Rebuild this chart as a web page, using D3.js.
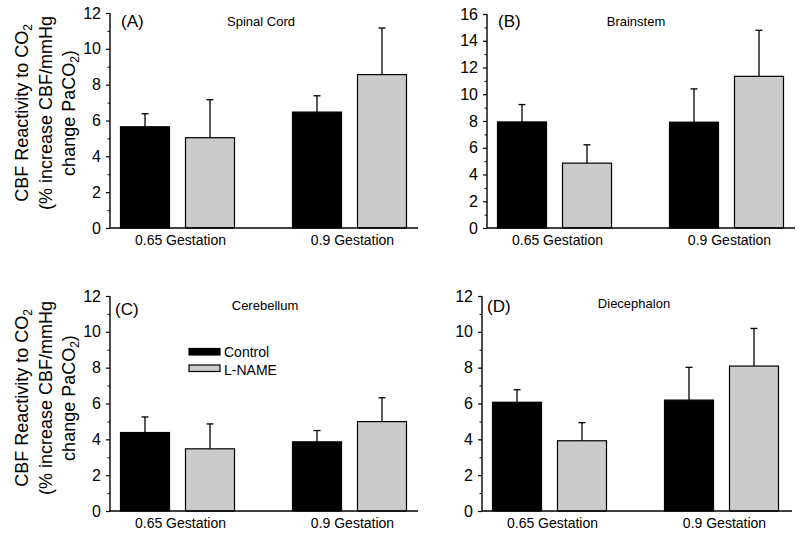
<!DOCTYPE html>
<html>
<head>
<meta charset="utf-8">
<script src="https://cdn.jsdelivr.net/npm/d3@7"></script>
<style>
  html, body { margin: 0; padding: 0; background: #fff; }
  svg { display: block; font-family: Arial, "Liberation Sans", sans-serif; }
</style>
</head>
<body>
<svg id="chart" width="800" height="539"></svg>
<script>
// ---- Data ----
const groups = ["0.65 Gestation", "0.9 Gestation"];
const series = ["Control", "L-NAME"];
const panelLetters = ["(A)", "(B)", "(C)", "(D)"];
const regions = ["Spinal Cord", "Brainstem", "Cerebellum", "Diecephalon"];
const yMaxes = [12, 16, 12, 12];

const spinalControl = [5.65, 6.47];
const spinalControlErr = [0.73, 0.91];
const spinalLName = [5.04, 8.56];
const spinalLNameErr = [2.12, 2.60];

const brainstemControl = [7.93, 7.91];
const brainstemControlErr = [1.30, 2.49];
const brainstemLName = [4.85, 11.34];
const brainstemLNameErr = [1.37, 3.44];

const cerebellumControl = [4.38, 3.86];
const cerebellumControlErr = [0.87, 0.63];
const cerebellumLName = [3.47, 4.99];
const cerebellumLNameErr = [1.39, 1.33];

const diecephalonControl = [6.07, 6.19];
const diecephalonControlErr = [0.70, 1.83];
const diecephalonLName = [3.92, 8.09];
const diecephalonLNameErr = [1.01, 2.10];

const panelData = [
  [spinalControl, spinalControlErr, spinalLName, spinalLNameErr],
  [brainstemControl, brainstemControlErr, brainstemLName, brainstemLNameErr],
  [cerebellumControl, cerebellumControlErr, cerebellumLName, cerebellumLNameErr],
  [diecephalonControl, diecephalonControlErr, diecephalonLName, diecephalonLNameErr]
];

// ---- Layout ----
const layout = [
  {x0: 110, x1: 418, yTop: 13,  yBot: 228, letter: [11, 14], title: [151, 13]},
  {x0: 487, x1: 795, yTop: 14,  yBot: 228, letter: [11, 13], title: [149, 12]},
  {x0: 110, x1: 418, yTop: 296, yBot: 511, letter: [5, 19],  title: [155, 14]},
  {x0: 482, x1: 792, yTop: 296, yBot: 511, letter: [5, 16],  title: [152, 12]}
];
const fills = {"Control": "#000000", "L-NAME": "#cbcbcb"};

const svg = d3.select("#chart");

layout.forEach((L, i) => {
  const g = svg.append("g");
  const y = d3.scaleLinear().domain([0, yMaxes[i]]).range([L.yBot, L.yTop]);
  const xg = d3.scalePoint().domain(groups).range([L.x0 + 67.5, L.x0 + 239.5]);
  const xs = d3.scaleBand().domain(series).range([-57, 57]).paddingInner(16 / 65);

  const [cm, ce, lm, le] = panelData[i];
  const rows = [];
  groups.forEach((grp, gi) => {
    rows.push({grp, s: "Control", v: cm[gi], e: ce[gi]});
    rows.push({grp, s: "L-NAME", v: lm[gi], e: le[gi]});
  });

  // error bars (drawn first so bars cover the lower part)
  rows.forEach(r => {
    const cx = xg(r.grp) + xs(r.s) + xs.bandwidth() / 2;
    g.append("line").attr("x1", cx).attr("x2", cx)
      .attr("y1", y(r.v)).attr("y2", y(r.v + r.e))
      .attr("stroke", "#000").attr("stroke-width", 1.3);
    g.append("line").attr("x1", cx - 3.5).attr("x2", cx + 3.5)
      .attr("y1", y(r.v + r.e)).attr("y2", y(r.v + r.e))
      .attr("stroke", "#000").attr("stroke-width", 1.3);
  });

  // bars
  g.selectAll("rect.bar").data(rows).enter().append("rect")
    .attr("class", "bar")
    .attr("x", d => xg(d.grp) + xs(d.s))
    .attr("width", xs.bandwidth())
    .attr("y", d => y(d.v))
    .attr("height", d => y(0) - y(d.v))
    .attr("fill", d => fills[d.s])
    .attr("stroke", "#000").attr("stroke-width", 1.2);

  // y axis major
  const yAxis = d3.axisLeft(y).tickValues(d3.range(0, yMaxes[i] + 0.001, 2))
    .tickSize(4).tickPadding(5).tickFormat(d3.format("d"));
  const ya = g.append("g").attr("transform", `translate(${L.x0},0)`).call(yAxis);
  ya.select(".domain").remove();
  ya.selectAll("line").attr("stroke", "#000").attr("stroke-width", 1.2);
  ya.selectAll("text").attr("font-size", 16).attr("fill", "#000")
    .attr("font-family", "Arial, 'Liberation Sans', sans-serif");

  // y axis minor
  const minorAxis = d3.axisLeft(y).tickValues(d3.range(1, yMaxes[i], 2))
    .tickSize(2.5).tickFormat("");
  const ym = g.append("g").attr("transform", `translate(${L.x0},0)`).call(minorAxis);
  ym.select(".domain").remove();
  ym.selectAll("line").attr("stroke", "#000").attr("stroke-width", 1);

  // axis lines
  g.append("line").attr("x1", L.x0).attr("x2", L.x0)
    .attr("y1", L.yTop).attr("y2", L.yBot)
    .attr("stroke", "#000").attr("stroke-width", 1.4);
  g.append("line").attr("x1", L.x0).attr("x2", L.x1)
    .attr("y1", L.yBot).attr("y2", L.yBot)
    .attr("stroke", "#000").attr("stroke-width", 1.4);

  // category labels
  groups.forEach(grp => {
    g.append("text").attr("x", xg(grp) + 3).attr("y", L.yBot + 17)
      .attr("text-anchor", "middle").attr("font-size", 14).text(grp);
  });

  // panel letter & region title
  g.append("text").attr("x", L.x0 + L.letter[0]).attr("y", L.yTop + L.letter[1])
    .attr("font-size", 17).text(panelLetters[i]);
  g.append("text").attr("x", L.x0 + L.title[0]).attr("y", L.yTop + L.title[1])
    .attr("text-anchor", "middle").attr("font-size", 13).text(regions[i]);
});

// y-axis titles (left column)
function yTitle(cy) {
  const t = svg.append("g").attr("transform", `translate(0,${cy}) rotate(-90)`);
  const fs = 18;
  const l1 = t.append("text").attr("x", 0).attr("y", 28).attr("text-anchor", "middle").attr("font-size", fs);
  l1.append("tspan").text("CBF Reactivity to CO");
  l1.append("tspan").attr("font-size", 12).attr("dy", 4).text("2");
  const l2 = t.append("text").attr("x", 0).attr("y", 51.5).attr("text-anchor", "middle").attr("font-size", fs);
  l2.text("(% increase CBF/mmHg");
  const l3 = t.append("text").attr("x", 0).attr("y", 75).attr("text-anchor", "middle").attr("font-size", fs);
  l3.append("tspan").text("change PaCO");
  l3.append("tspan").attr("font-size", 12).attr("dy", 4).text("2");
  l3.append("tspan").attr("dy", -4).text(")");
}
yTitle(113);
yTitle(398);

// legend (panel C)
const legend = svg.append("g");
series.forEach((s, k) => {
  legend.append("rect").attr("x", 189).attr("y", 348.5 + k * 16.5)
    .attr("width", 31).attr("height", 6.5)
    .attr("fill", fills[s]).attr("stroke", "#000").attr("stroke-width", 1.2);
  legend.append("text").attr("x", 224).attr("y", 357 + k * 17.5)
    .attr("font-size", 14).text(s);
});
</script>
</body>
</html>
